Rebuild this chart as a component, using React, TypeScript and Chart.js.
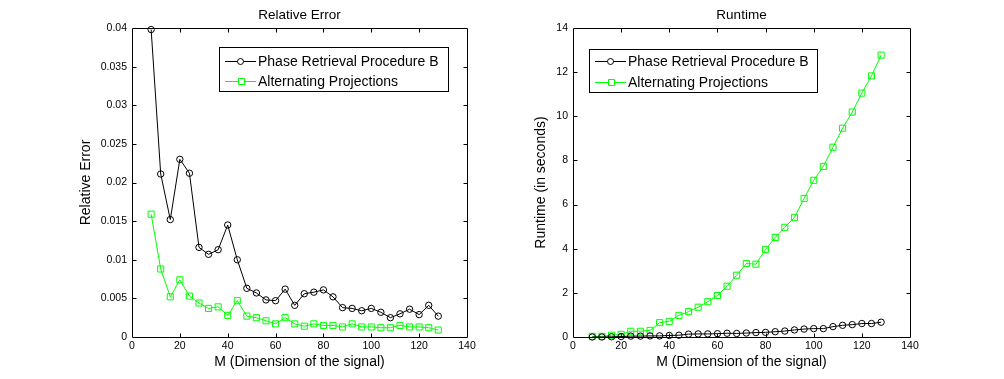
import React, { useEffect, useRef } from 'react';
import { Chart, registerables } from 'chart.js';

Chart.register(...registerables);

// ---------------- data ----------------
const signalDims = [8, 12, 16, 20, 24, 28, 32, 36, 40, 44, 48, 52, 56, 60, 64, 68, 72, 76, 80, 84, 88, 92, 96, 100, 104, 108, 112, 116, 120, 124, 128];

const errorProcB = [0.0398, 0.0211, 0.0152, 0.0230, 0.0212, 0.0116, 0.0107, 0.0113, 0.0145, 0.0100, 0.0063, 0.0057, 0.0048, 0.0047, 0.0062, 0.0041, 0.0056, 0.0058, 0.0061, 0.0052, 0.0038, 0.0037, 0.0034, 0.0037, 0.0032, 0.0025, 0.0030, 0.0036, 0.0029, 0.0041, 0.0027];
const errorAltProj = [0.0159, 0.0088, 0.0052, 0.0074, 0.0053, 0.0044, 0.0037, 0.0039, 0.0028, 0.0047, 0.0027, 0.0025, 0.0021, 0.0017, 0.0025, 0.0017, 0.0014, 0.0017, 0.0015, 0.0015, 0.0013, 0.0017, 0.0013, 0.0013, 0.0012, 0.0012, 0.0015, 0.0013, 0.0013, 0.0012, 0.0009];

const runtimeProcB = [0.00, 0.00, 0.01, 0.02, 0.04, 0.04, 0.05, 0.05, 0.07, 0.08, 0.13, 0.14, 0.14, 0.15, 0.17, 0.16, 0.18, 0.20, 0.21, 0.24, 0.27, 0.32, 0.36, 0.38, 0.38, 0.47, 0.53, 0.56, 0.61, 0.61, 0.67];
const runtimeAltProj = [0.03, 0.03, 0.08, 0.12, 0.26, 0.26, 0.30, 0.65, 0.71, 0.98, 1.15, 1.35, 1.60, 1.88, 2.30, 2.80, 3.33, 3.30, 3.97, 4.51, 4.97, 5.42, 6.28, 7.10, 7.73, 8.60, 9.46, 10.19, 11.05, 11.83, 12.77];

const seriesNames = ['Phase Retrieval Procedure B', 'Alternating Projections'];

const xTickValues = [0, 20, 40, 60, 80, 100, 120, 140];
const xTickLabels = ['0', '20', '40', '60', '80', '100', '120', '140'];
const errorTickValues = [0, 0.005, 0.01, 0.015, 0.02, 0.025, 0.03, 0.035, 0.04];
const errorTickLabels = ['0', '0.005', '0.01', '0.015', '0.02', '0.025', '0.03', '0.035', '0.04'];
const runtimeTickValues = [0, 2, 4, 6, 8, 10, 12, 14];
const runtimeTickLabels = ['0', '2', '4', '6', '8', '10', '12', '14'];

// ---------------- styling ----------------
const FONT = '"Liberation Sans", Arial, Helvetica, sans-serif';
const GREEN = '#00ff00';
const BLACK = '#000000';

const matlabPlugin = {
  id: 'matlabFrame',
  afterDatasetsDraw(chart: any, _args: any, opts: any) {
    const { ctx, chartArea: a } = chart;
    const xs = chart.scales.x;
    const ys = chart.scales.y;
    ctx.save();
    ctx.strokeStyle = BLACK;
    ctx.lineWidth = 1;
    const l = Math.round(a.left) + 0.5;
    const r = Math.round(a.right) + 0.5;
    const t = Math.round(a.top) + 0.5;
    const b = Math.round(a.bottom) + 0.5;
    ctx.beginPath();
    ctx.rect(l, t, r - l, b - t);
    const L = 4;
    xs.ticks.forEach((tk: any) => {
      const p = Math.round(xs.getPixelForValue(tk.value)) + 0.5;
      if (p <= l + 1 || p >= r - 1) return;
      ctx.moveTo(p, b); ctx.lineTo(p, b - L);
      ctx.moveTo(p, t); ctx.lineTo(p, t + L);
    });
    ys.ticks.forEach((tk: any) => {
      const p = Math.round(ys.getPixelForValue(tk.value)) + 0.5;
      if (p <= t + 1 || p >= b - 1) return;
      ctx.moveTo(l, p); ctx.lineTo(l + L, p);
      ctx.moveTo(r, p); ctx.lineTo(r - L, p);
    });
    ctx.stroke();

    // title
    ctx.fillStyle = BLACK;
    ctx.font = `13.5px ${FONT}`;
    ctx.textAlign = 'center';
    ctx.textBaseline = 'middle';
    ctx.fillText(opts.title, (a.left + a.right) / 2, opts.titleY);

    // legend
    const lg = opts.legend;
    ctx.fillStyle = '#ffffff';
    ctx.fillRect(lg.x, lg.y, lg.w, lg.h);
    ctx.strokeStyle = BLACK;
    ctx.strokeRect(lg.x + 0.5, lg.y + 0.5, lg.w, lg.h);
    ctx.textAlign = 'left';
    ctx.font = `14px ${FONT}`;
    chart.data.datasets.forEach((ds: any, i: number) => {
      const y = Math.round(lg.rowY[i]) + 0.5;
      const x0 = lg.x + lg.lineStart;
      const x1 = lg.x + lg.lineEnd;
      const cx = (x0 + x1) / 2;
      ctx.strokeStyle = ds.borderColor;
      ctx.lineWidth = 1;
      ctx.beginPath();
      ctx.moveTo(x0, y);
      ctx.lineTo(x1, y);
      ctx.stroke();
      ctx.beginPath();
      if (ds.pointStyle === 'rect') {
        ctx.rect(Math.round(cx) - 3 + 0.5, y - 3, 6, 6);
      } else {
        ctx.arc(cx, y, 3, 0, Math.PI * 2);
      }
      ctx.fillStyle = '#ffffff';
      ctx.fill();
      ctx.stroke();
      ctx.fillStyle = BLACK;
      ctx.fillText(ds.label, lg.x + lg.textX, y + 1);
    });
    ctx.restore();
  },
};

function makeDataset(label: string, ys: number[], color: string, style: string) {
  return {
    label,
    data: signalDims.map((m, i) => ({ x: m, y: ys[i] })),
    borderColor: color,
    backgroundColor: 'transparent',
    borderWidth: 1,
    pointStyle: style,
    pointRadius: style === 'rect' ? 4.3 : 3.2,
    pointBorderColor: color,
    pointBackgroundColor: 'transparent',
    pointBorderWidth: 1,
    tension: 0,
    clip: 6,
  };
}

function buildConfig(p: {
  a: number[]; b: number[]; yMax: number; yTicks: number[]; yLabels: string[];
  yTitle: string; title: string; yAxisWidth: number; yTitlePad: number; padRight: number;
  legend: any;
}) {
  return {
    type: 'line' as const,
    data: {
      datasets: [
        makeDataset(seriesNames[0], p.a, BLACK, 'circle'),
        makeDataset(seriesNames[1], p.b, GREEN, 'rect'),
      ],
    },
    options: {
      animation: false,
      responsive: false,
      devicePixelRatio: 1,
      layout: { padding: { top: 28, left: 0, right: p.padRight, bottom: 0 } },
      plugins: {
        legend: { display: false },
        tooltip: { enabled: false },
        title: { display: false },
        matlabFrame: { title: p.title, titleY: 15, legend: p.legend },
      },
      scales: {
        x: {
          type: 'linear',
          min: 0,
          max: 140,
          afterBuildTicks: (s: any) => { s.ticks = xTickValues.map((v) => ({ value: v })); },
          afterFit: (s: any) => { s.height = 42; },
          grid: { display: false, drawTicks: false },
          border: { display: false },
          ticks: {
            autoSkip: false,
            maxRotation: 0,
            padding: 3,
            color: BLACK,
            font: { family: FONT, size: 10.5 },
            callback: (_v: any, i: number) => xTickLabels[i],
          },
          title: {
            display: true,
            text: 'M (Dimension of the signal)',
            color: BLACK,
            font: { family: FONT, size: 14 },
            padding: { top: 0, bottom: 8 },
          },
        },
        y: {
          type: 'linear',
          min: 0,
          max: p.yMax,
          afterBuildTicks: (s: any) => { s.ticks = p.yTicks.map((v) => ({ value: v })); },
          afterFit: (s: any) => { s.width = p.yAxisWidth; },
          grid: { display: false, drawTicks: false },
          border: { display: false },
          ticks: {
            autoSkip: false,
            padding: 5,
            color: BLACK,
            font: { family: FONT, size: 10.5 },
            callback: (_v: any, i: number) => p.yLabels[i],
          },
          title: {
            display: true,
            text: p.yTitle,
            color: BLACK,
            font: { family: FONT, size: 14 },
            padding: { top: p.yTitlePad, bottom: 0 },
          },
        },
      },
    },
    plugins: [matlabPlugin],
  };
}

function ChartCanvas({ config }: { config: any }) {
  const ref = useRef<HTMLCanvasElement | null>(null);
  useEffect(() => {
    if (!ref.current) return;
    const chart = new Chart(ref.current, config);
    return () => chart.destroy();
  }, [config]);
  return <canvas ref={ref} width={502} height={379} style={{ display: 'block', width: 502, height: 379 }} />;
}

const errorConfig = buildConfig({
  a: errorProcB,
  b: errorAltProj,
  yMax: 0.04,
  yTicks: errorTickValues,
  yLabels: errorTickLabels,
  yTitle: 'Relative Error',
  title: 'Relative Error',
  yAxisWidth: 132,
  yTitlePad: 78,
  padRight: 35,
  legend: { x: 219, y: 47, w: 229, h: 44, lineStart: 6, lineEnd: 37, textX: 39, rowY: [61, 81] },
});

const runtimeConfig = buildConfig({
  a: runtimeProcB,
  b: runtimeAltProj,
  yMax: 14,
  yTicks: runtimeTickValues,
  yLabels: runtimeTickLabels,
  yTitle: 'Runtime (in seconds)',
  title: 'Runtime',
  yAxisWidth: 71,
  yTitlePad: 31,
  padRight: 94,
  legend: { x: 87, y: 49, w: 228, h: 43, lineStart: 6, lineEnd: 37, textX: 39, rowY: [61, 82] },
});

export default function App() {
  return (
    <div style={{ position: 'fixed', left: 0, top: 0, width: 1004, height: 379, background: '#ffffff' }}>
      <div style={{ position: 'absolute', left: 0, top: 0 }}>
        <ChartCanvas config={errorConfig} />
      </div>
      <div style={{ position: 'absolute', left: 502, top: 0 }}>
        <ChartCanvas config={runtimeConfig} />
      </div>
    </div>
  );
}
